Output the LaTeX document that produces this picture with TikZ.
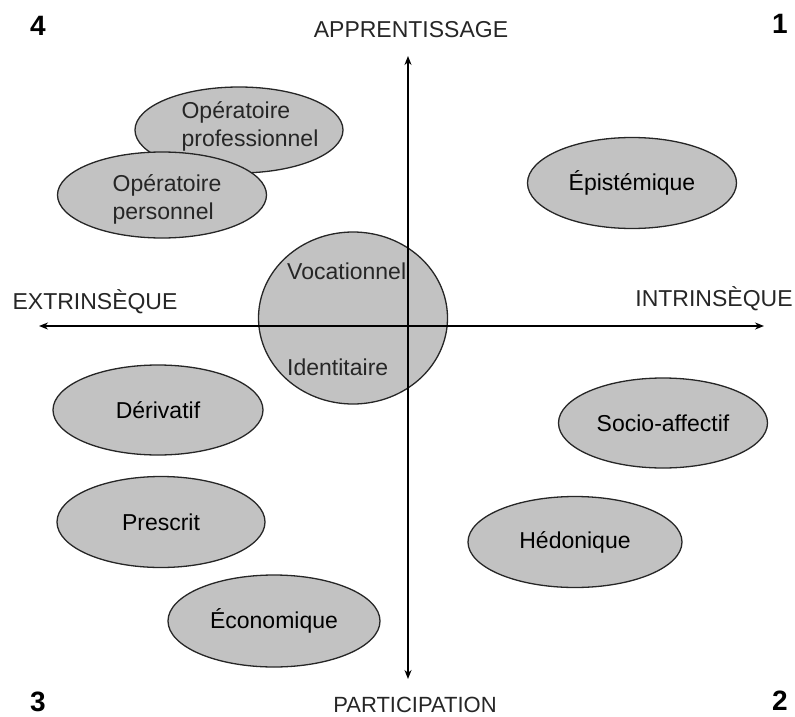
\documentclass[tikz,border=0pt]{standalone}
\usepackage{fontspec}
\setmainfont{Liberation Sans}
\usetikzlibrary{arrows.meta,shapes.geometric}
\begin{document}
\begin{tikzpicture}[x=1pt,y=-1pt,
  bubble/.style={ellipse, draw=black!85, line width=1.3pt, fill=black!24, inner sep=0pt,
    font=\fontsize{23}{28}\selectfont},
  txt/.style={font=\fontsize{23}{28}\selectfont, inner sep=0pt, text=black!85},
  num/.style={font=\fontsize{28}{30}\selectfont\bfseries, inner sep=0pt},
  axis/.style={line width=1.5pt, {Stealth[length=9pt,width=7pt]}-{Stealth[length=9pt,width=7pt]}}]
\useasboundingbox (0,0) rectangle (795,717);

% ellipses
\node[bubble, minimum width=208pt, minimum height=86pt] (opro) at (239,130) {};
\node[txt, align=left] (oprot) at (250,126) {Opératoire\\professionnel};
\node[bubble, minimum width=209pt, minimum height=86pt] (oper) at (162,195) {};
\node[txt, align=left] (opert) at (167,199) {Opératoire\\personnel};
\node[bubble, minimum width=209pt, minimum height=91pt] (epi) at (632,183) {\raisebox{-2pt}{Épistémique}};
\node[bubble, minimum width=189pt, minimum height=172pt] (voc) at (353,318) {};
\node[txt, anchor=west] (voct) at (287,271) {Vocationnel};
\node[txt, anchor=west] (idt) at (287,367) {Identitaire};
\node[bubble, minimum width=210pt, minimum height=90pt] (der) at (158,410) {Dérivatif};
\node[bubble, minimum width=209pt, minimum height=90pt] (soc) at (663,423) {Socio-affectif};
\node[bubble, minimum width=208pt, minimum height=91pt] (pre) at (161,522) {Prescrit};
\node[bubble, minimum width=214pt, minimum height=91pt] (hed) at (575,542) {Hédonique};
\node[bubble, minimum width=212pt, minimum height=92pt] (eco) at (274,621) {\raisebox{-2pt}{Économique}};

% axes
\coordinate (top) at (408,56);
\coordinate (bot) at (408,679);
\coordinate (lft) at (39,326);
\coordinate (rgt) at (764,326);
\draw[axis] (bot) -- (top);
\draw[axis] (lft) -- (rgt);

% axis labels
\node[txt] (app) at (411,30) {APPRENTISSAGE};
\node[txt, font=\fontsize{22}{26}\selectfont] (par) at (415,705) {PARTICIPATION};
\node[txt] (ext) at (95,302) {EXTRINSÈQUE};
\node[txt] (int) at (714,299) {INTRINSÈQUE};

% quadrant numbers
\node[num] (n4) at (38,26) {4};
\node[num] (n1) at (780,24) {1};
\node[num] (n3) at (38,702) {3};
\node[num] (n2) at (780,701) {2};
\end{tikzpicture}
\end{document}
